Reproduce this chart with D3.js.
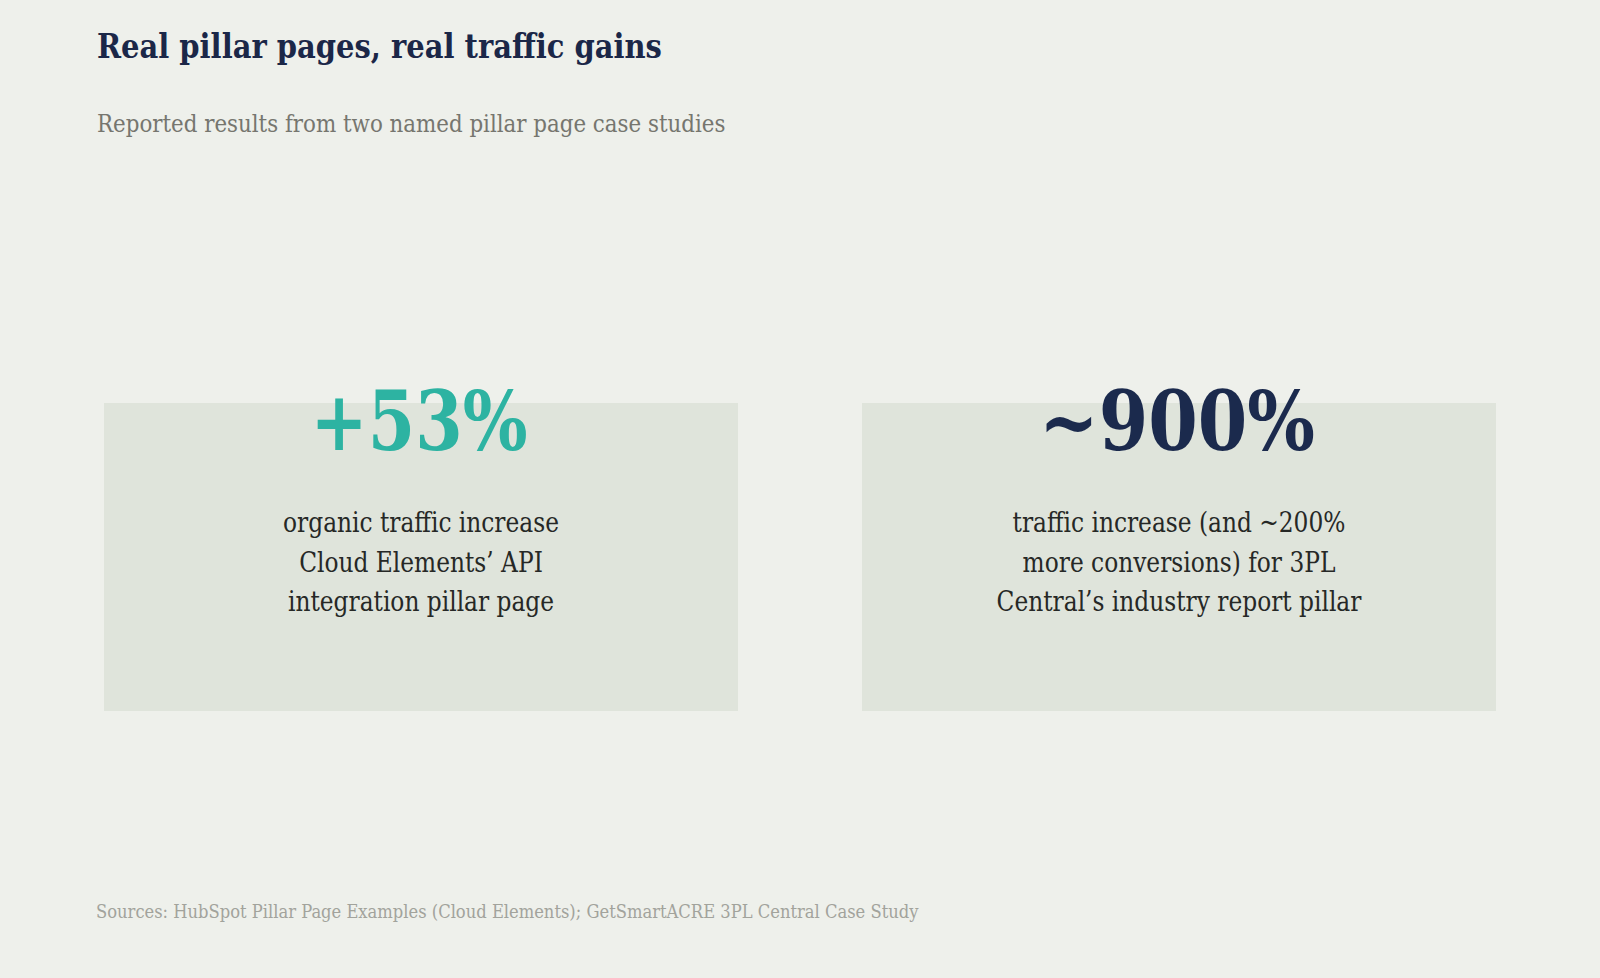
<!DOCTYPE html>
<html>
<head>
<meta charset="utf-8">
<script src="https://cdn.jsdelivr.net/npm/d3@7/dist/d3.min.js"></script>
<style>
  html, body { margin: 0; padding: 0; background: #eef0eb; }
  svg { display: block; }
  text { font-family: "DejaVu Serif Condensed", "DejaVu Serif", serif; font-stretch: condensed; }
</style>
</head>
<body>
<script>
// ---- data ----
const titleText = "Real pillar pages, real traffic gains";
const subtitleText = "Reported results from two named pillar page case studies";
const sourceText = "Sources: HubSpot Pillar Page Examples (Cloud Elements); GetSmartACRE 3PL Central Case Study";
const cardIds = ["cloudElements", "threePL"];
const statValues = ["+53%", "~900%"];
const statColors = ["#2db3a2", "#1b2a4d"];
const descriptionLines = [
  ["organic traffic increase", "Cloud Elements\u2019 API", "integration pillar page"],
  ["traffic increase (and ~200%", "more conversions) for 3PL", "Central\u2019s industry report pillar"]
];

// ---- layout ----
const W = 1600, H = 978;
const statTargetWidths = [217, 276];
const svg = d3.select("body").append("svg").attr("width", W).attr("height", H);
svg.append("rect").attr("width", W).attr("height", H).attr("fill", "#eef0eb");

const x = d3.scaleBand().domain(d3.range(cardIds.length)).range([104, 1496])
  .paddingInner(124 / 758).paddingOuter(0);
const cardTop = 403, cardH = 308;

function fitText(txt, target) {
  const w = txt.node().getComputedTextLength();
  return target / w;
}

// title
const tg = svg.append("g");
const tt = tg.append("text").text(titleText).attr("font-size", 34).attr("font-weight", 700).attr("fill", "#1b2748");
tg.attr("transform", `translate(97,58) scale(${fitText(tt, 565)},1)`);

// subtitle
const sg = svg.append("g");
const st = sg.append("text").text(subtitleText).attr("font-size", 25).attr("fill", "#76766f");
sg.attr("transform", `translate(97,132) scale(${fitText(st, 629)},1)`);

// cards
const cards = svg.selectAll("g.card").data(cardIds).join("g").attr("class", "card");
cards.append("rect")
  .attr("x", (d, i) => x(i)).attr("y", cardTop)
  .attr("width", x.bandwidth()).attr("height", cardH)
  .attr("fill", "#dfe4db");

// big numbers
cards.each(function (d, i) {
  const cx = x(i) + x.bandwidth() / 2;
  const g = d3.select(this).append("g");
  const t = g.append("text").text(statValues[i]).attr("text-anchor", "middle")
    .attr("font-size", 82).attr("font-weight", 700).attr("fill", statColors[i]);
  g.attr("transform", `translate(${cx - 2},450) scale(${fitText(t, statTargetWidths[i])},1)`);
});

// descriptions
let bodyScale = null;
const lineBase = [532, 571.5, 611];
cards.each(function (d, i) {
  const cx = x(i) + x.bandwidth() / 2;
  descriptionLines[i].forEach((line, j) => {
    const g = d3.select(this).append("g");
    const t = g.append("text").text(line).attr("text-anchor", "middle")
      .attr("font-size", 27).attr("fill", "#262826");
    if (bodyScale === null) bodyScale = fitText(t, 276);
    g.attr("transform", `translate(${cx},${lineBase[j]}) scale(${bodyScale},1)`);
  });
});

// sources
const fg = svg.append("g");
const ft = fg.append("text").text(sourceText).attr("font-size", 18).attr("fill", "#a2a39c");
fg.attr("transform", `translate(96,918) scale(${fitText(ft, 823)},1)`);
</script>
</body>
</html>
